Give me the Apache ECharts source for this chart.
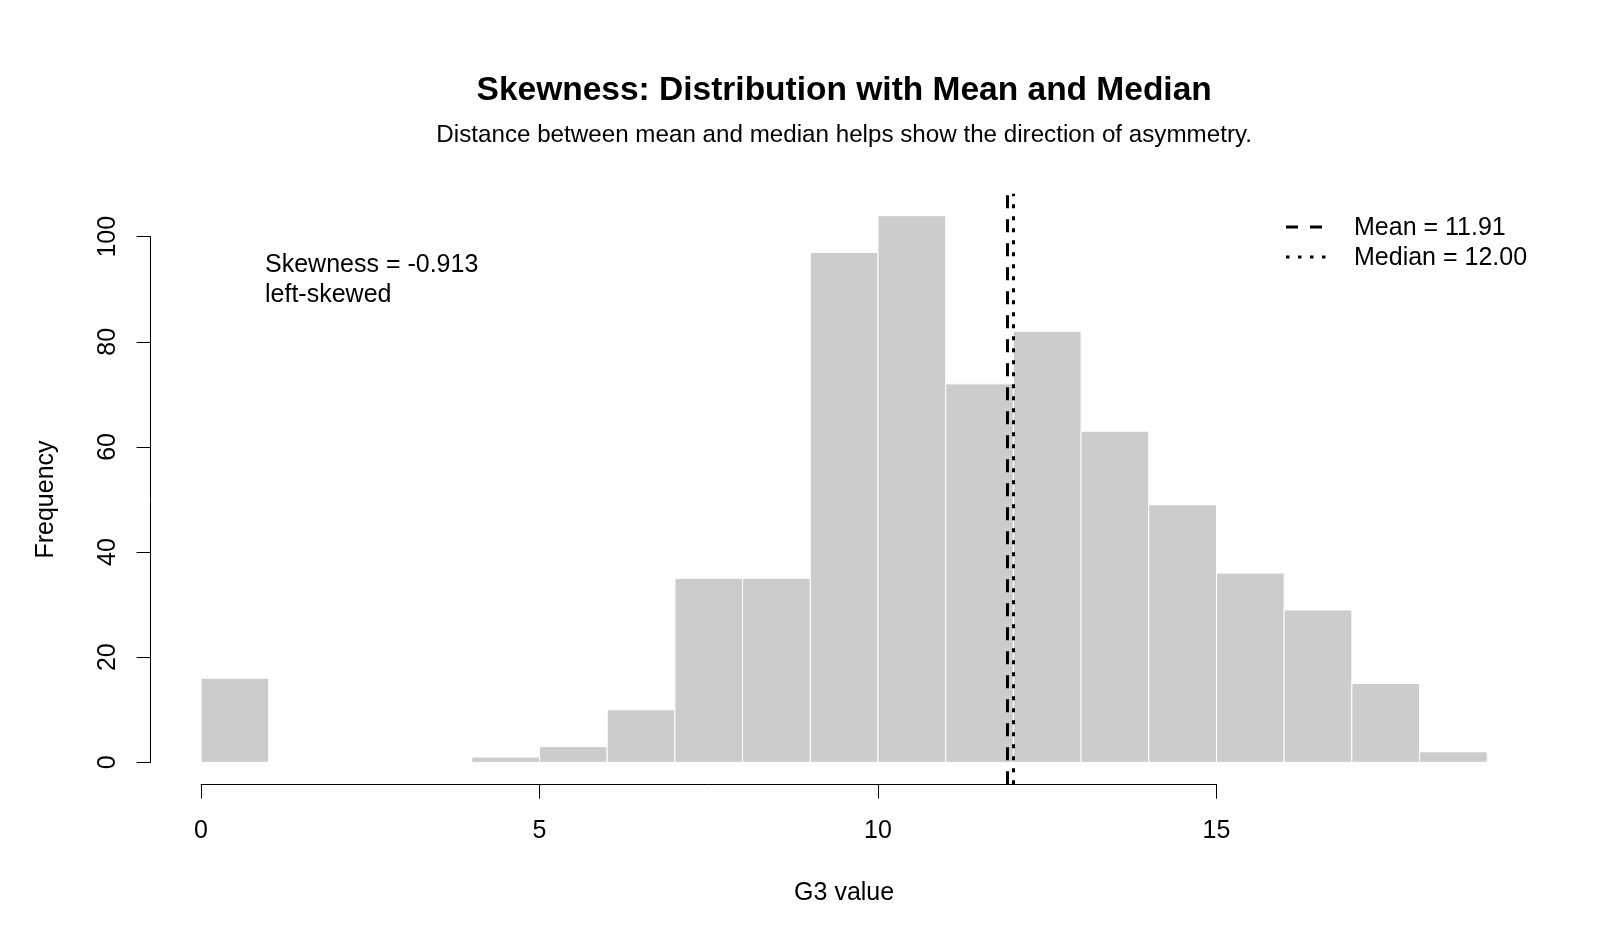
<!DOCTYPE html>
<html>
<head>
<meta charset="utf-8">
<script src="https://cdn.jsdelivr.net/npm/echarts@6/dist/echarts.min.js"></script>
<style>
  html, body { margin: 0; padding: 0; background: #fff; }
  #chart { width: 1600px; height: 950px; }
</style>
</head>
<body>
<div id="chart"></div>
<script>
// histogram data (G3 values, bin width 1)
var breaks = [0, 1, 2, 3, 4, 5, 6, 7, 8, 9, 10, 11, 12, 13, 14, 15, 16, 17, 18, 19];
var counts = [16, 0, 0, 0, 1, 3, 10, 35, 35, 97, 104, 72, 82, 63, 49, 36, 29, 15, 2];
var xTicks = [0, 5, 10, 15];
var yTicks = [0, 20, 40, 60, 80, 100];
var meanVal = 11.91;
var medianVal = 12.00;
var skewVal = -0.913;
var skewLabel = 'left-skewed';

var FONT = '"Liberation Sans", Arial, sans-serif';

// plot region, R style: xlim/ylim padded 4%
var xmin = breaks[0], xmax = breaks[breaks.length - 1];
var ymax = Math.max.apply(null, counts);
var xpad = (xmax - xmin) * 0.04, ypad = ymax * 0.04;
var plotL = 149.6, plotR = 1538.7, plotT = 193.8, plotB = 784.2;
var pxX = (plotR - plotL) / (xmax - xmin + 2 * xpad);
var pxY = (plotB - plotT) / (ymax + 2 * ypad);
var plotMid = (plotL + plotR) / 2;

var bins = counts.map(function (c, i) { return [breaks[i], breaks[i + 1], c]; });

var chart = echarts.init(document.getElementById('chart'));

// R axes only span the tick range
var xAxL = plotL + (xTicks[0] - xmin + xpad) * pxX;
var xAxR = plotL + (xTicks[xTicks.length - 1] - xmin + xpad) * pxX;
var yAxB = plotB - (yTicks[0] + ypad) * pxY;
var yAxT = plotB - (yTicks[yTicks.length - 1] + ypad) * pxY;

chart.setOption({
  backgroundColor: '#fff',
  animation: false,
  title: [{
    text: 'Skewness: Distribution with Mean and Median',
    left: plotMid - 5, top: 69, textAlign: 'center',
    textStyle: { fontFamily: FONT, fontSize: 33.5, fontWeight: 'bold', color: '#000' }
  }, {
    text: 'Distance between mean and median helps show the direction of asymmetry.',
    left: plotMid - 5, top: 118, textAlign: 'center',
    textStyle: { fontFamily: FONT, fontSize: 24.2, fontWeight: 'normal', color: '#000' }
  }],
  grid: [
    { left: plotL, top: plotT, width: plotR - plotL, height: plotB - plotT },
    { left: xAxL, top: plotB - 0.5, width: xAxR - xAxL, height: 1 },
    { left: plotL + 1, top: yAxT, width: 1, height: yAxB - yAxT }
  ],
  xAxis: [{
    gridIndex: 0, type: 'value', min: xmin - xpad, max: xmax + xpad, show: false
  }, {
    gridIndex: 1, type: 'value', min: xTicks[0], max: xTicks[xTicks.length - 1], interval: 5,
    position: 'bottom',
    axisLine: { show: true, lineStyle: { color: '#000', width: 1 } },
    axisTick: { show: true, length: 14, lineStyle: { color: '#000', width: 1 } },
    axisLabel: { margin: 34, fontFamily: FONT, fontSize: 25, color: '#000' },
    splitLine: { show: false }
  }, {
    gridIndex: 2, type: 'value', show: false
  }],
  yAxis: [{
    gridIndex: 0, type: 'value', min: -ypad, max: ymax + ypad, show: false
  }, {
    gridIndex: 1, type: 'value', show: false
  }, {
    gridIndex: 2, type: 'value', min: yTicks[0], max: yTicks[yTicks.length - 1], interval: 20,
    position: 'left',
    name: 'Frequency', nameLocation: 'middle', nameGap: 92, nameRotate: 90,
    nameTextStyle: { fontFamily: FONT, fontSize: 25, color: '#000' },
    axisLine: { show: true, lineStyle: { color: '#000', width: 1 } },
    axisTick: { show: true, length: 14, lineStyle: { color: '#000', width: 1 } },
    axisLabel: { rotate: 90, margin: 30, fontFamily: FONT, fontSize: 25, color: '#000' },
    splitLine: { show: false }
  }],
  series: [{
    type: 'custom',
    xAxisIndex: 0, yAxisIndex: 0,
    data: bins,
    renderItem: function (params, api) {
      var h = api.value(2);
      if (!h) return null;
      var p0 = api.coord([api.value(0), 0]);
      var p1 = api.coord([api.value(1), h]);
      return {
        type: 'rect',
        shape: { x: p0[0], y: p1[1], width: p1[0] - p0[0], height: p0[1] - p1[1] },
        style: { fill: '#cccccc', stroke: '#ffffff', lineWidth: 1 }
      };
    },
    markLine: {
      silent: true, symbol: 'none', label: { show: false },
      data: [
        { xAxis: meanVal, lineStyle: { color: '#000', width: 3, type: [13, 11] } },
        { xAxis: medianVal, lineStyle: { color: '#000', width: 3, type: [4, 8] } }
      ]
    }
  }],
  graphic: [
    { type: 'text', x: plotMid, y: 893,
      style: { text: 'G3 value', font: '25px ' + FONT, fill: '#000', align: 'center', verticalAlign: 'middle' } },
    { type: 'text', left: 265, top: 250,
      style: { text: 'Skewness = ' + skewVal.toFixed(3) + '\n' + skewLabel, font: '25px ' + FONT, fill: '#000', lineHeight: 30 } },
    { type: 'line', shape: { x1: 1286, y1: 227, x2: 1324, y2: 227 },
      style: { stroke: '#000', lineWidth: 3, lineDash: [12, 12] } },
    { type: 'line', shape: { x1: 1286, y1: 257, x2: 1326, y2: 257 },
      style: { stroke: '#000', lineWidth: 3, lineDash: [3.5, 8.5] } },
    { type: 'text', x: 1354, y: 228,
      style: { text: 'Mean = ' + meanVal.toFixed(2), font: '25px ' + FONT, fill: '#000', verticalAlign: 'middle' } },
    { type: 'text', x: 1354, y: 258,
      style: { text: 'Median = ' + medianVal.toFixed(2), font: '25px ' + FONT, fill: '#000', verticalAlign: 'middle' } }
  ]
});
</script>
</body>
</html>
